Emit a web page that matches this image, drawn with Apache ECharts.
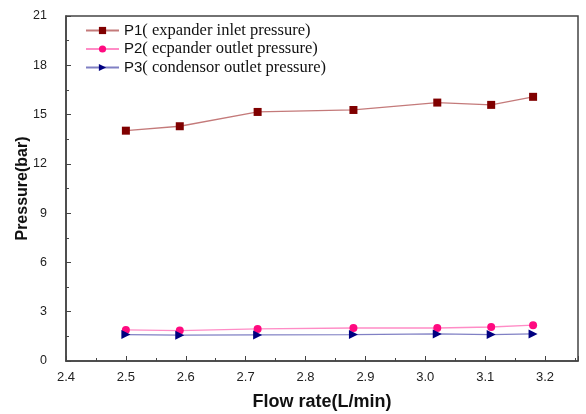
<!DOCTYPE html>
<html>
<head>
<meta charset="utf-8">
<script src="https://cdn.jsdelivr.net/npm/echarts@6/dist/echarts.min.js"></script>
<style>
  html, body { margin: 0; padding: 0; background: #fff; }
  #chart { width: 586px; height: 414px; }
</style>
</head>
<body>
<div id="chart"></div>
<script>
// Flow rate (L/min) of each measurement
const flowRate = [2.5, 2.59, 2.72, 2.88, 3.02, 3.11, 3.18];
// Pressures (bar)
const p1Inlet = [14.02, 14.29, 15.16, 15.28, 15.73, 15.59, 16.08];
const p2Outlet = [1.89, 1.85, 1.95, 2.01, 2.01, 2.07, 2.18];
const p3Condenser = [1.61, 1.57, 1.59, 1.61, 1.65, 1.61, 1.65];

const seriesNames = [
  'P1( expander inlet pressure)',
  'P2( ecpander outlet pressure)',
  'P3( condensor outlet pressure)'
];

const pairs = ys => flowRate.map((x, i) => [x, ys[i]]);

const chart = echarts.init(document.getElementById('chart'), null, { renderer: 'canvas' });

const axisCommon = {
  axisLine: { show: true, lineStyle: { color: '#444', width: 1.5 } },
  axisTick: { show: true, inside: true, length: 5, lineStyle: { color: '#444', width: 1 } },
  minorTick: { show: true, splitNumber: 2, length: 3, lineStyle: { color: '#444', width: 1 } },
  splitLine: { show: false },
  axisLabel: { color: '#222', fontFamily: 'Liberation Sans, Arial', fontSize: 13 },
  nameTextStyle: { color: '#111', fontFamily: 'Liberation Sans, Arial', fontWeight: 'bold' }
};

chart.setOption({
  animation: false,
  backgroundColor: '#fff',
  grid: {
    left: 66, right: 8, top: 16, bottom: 53,
    outerBoundsMode: 'none',
    show: true, borderColor: '#444', borderWidth: 1.5, backgroundColor: 'transparent'
  },
  legend: {
    orient: 'vertical',
    left: 85, top: 22, padding: 0,
    itemWidth: 33, itemHeight: 9, itemGap: 1.5,
    data: seriesNames,
    formatter: name => {
      const k = name.indexOf('(');
      return '{a|' + name.slice(0, k) + '}{b|' + name.slice(k) + '}';
    },
    textStyle: {
      padding: 0,
      rich: {
        a: { fontFamily: 'Liberation Sans, Arial', fontSize: 15, lineHeight: 16, color: '#111' },
        b: { fontFamily: 'Liberation Serif, Times New Roman', fontSize: 16.5, lineHeight: 16, color: '#111' }
      }
    }
  },
  xAxis: Object.assign({}, axisCommon, {
    type: 'value',
    min: 2.4, max: 3.255, interval: 0.1,
    name: 'Flow rate(L/min)', nameLocation: 'middle', nameGap: 32,
    nameMoveOverlap: false,
    nameTextStyle: Object.assign({}, axisCommon.nameTextStyle, { fontSize: 18 }),
    axisLabel: Object.assign({}, axisCommon.axisLabel, {
      margin: 10, showMaxLabel: false,
      formatter: v => v.toFixed(1)
    })
  }),
  yAxis: Object.assign({}, axisCommon, {
    type: 'value',
    min: 0, max: 21, interval: 3,
    name: 'Pressure(bar)', nameLocation: 'middle', nameGap: 35, nameRotate: 90,
    nameMoveOverlap: false,
    nameTextStyle: Object.assign({}, axisCommon.nameTextStyle, { fontSize: 16 }),
    axisLabel: Object.assign({}, axisCommon.axisLabel, { margin: 19, fontSize: 12.5 })
  }),
  series: [
    {
      name: seriesNames[0], type: 'line', data: pairs(p1Inlet),
      symbol: 'rect', symbolSize: 8,
      itemStyle: { color: '#800000' },
      lineStyle: { color: '#c47a7a', width: 1.3 }
    },
    {
      name: seriesNames[1], type: 'line', data: pairs(p2Outlet),
      symbol: 'circle', symbolSize: 8,
      itemStyle: { color: '#ff0a80' },
      lineStyle: { color: '#ff8cc6', width: 1.3 }
    },
    {
      name: seriesNames[2], type: 'line', data: pairs(p3Condenser),
      symbol: 'path://M0,0 L10,5 L0,10 Z', symbolSize: 9,
      itemStyle: { color: '#000080' },
      lineStyle: { color: '#8080c4', width: 1.3 }
    }
  ]
});
</script>
</body>
</html>
